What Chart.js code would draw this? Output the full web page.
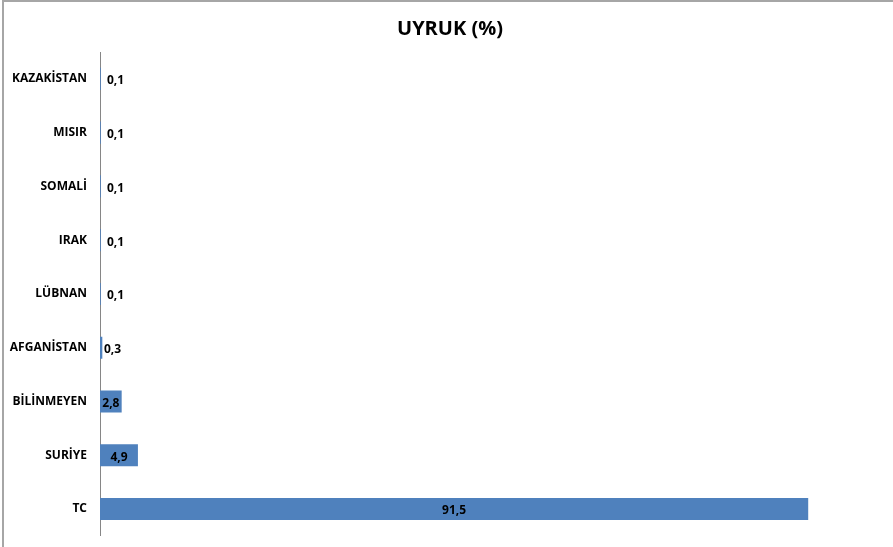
<!DOCTYPE html>
<html>
<head>
<meta charset="utf-8">
<script src="https://cdn.jsdelivr.net/npm/chart.js"></script>
<style>
    body { margin: 0; background: #fff; overflow: hidden; }
    #wrap {
        position: absolute;
        left: 2px; top: 0px;
        width: 900px; height: 560px;
        border: 2px solid #a6a6a6;
        box-sizing: border-box;
    }
    #uyrukChart { position: absolute; left: 0; top: 0; }
    #title {
        position: absolute;
        left: 0; top: 14px; width: 900px;
        text-align: center;
        font: bold 20px 'Open Sans', 'DejaVu Sans', sans-serif;
        color: #000;
    }
</style>
</head>
<body>
<div id="wrap"></div>
<canvas id="uyrukChart" width="893" height="556"></canvas>
<div id="title">UYRUK (%)</div>
<script>
    const countries = ['KAZAKİSTAN', 'MISIR', 'SOMALİ', 'IRAK', 'LÜBNAN', 'AFGANİSTAN', 'BİLİNMEYEN', 'SURİYE', 'TC'];
    const percents = [0.1, 0.1, 0.1, 0.1, 0.1, 0.3, 2.8, 4.9, 91.5];

    const FONT = "'Open Sans', 'DejaVu Sans', sans-serif";

    // value labels: centred in the bar, pushed right of the base when the bar is too short
    const barLabels = {
        id: 'barLabels',
        afterDatasetsDraw(chart) {
            const ctx = chart.ctx;
            const meta = chart.getDatasetMeta(0);
            ctx.save();
            ctx.font = "bold 12px " + FONT;
            ctx.fillStyle = '#000';
            ctx.textBaseline = 'middle';
            meta.data.forEach((bar, i) => {
                const txt = percents[i].toFixed(1).replace('.', ',');
                const w = ctx.measureText(txt).width;
                const x0 = bar.base, x1 = bar.x;
                let cx = (x0 + x1) / 2;
                if (x1 - x0 < w + 2) cx = x0 + (x1 - x0 > 1 ? 4 : 7) + w / 2;
                ctx.textAlign = 'center';
                ctx.fillText(txt, cx, bar.y + 2);
            });
            ctx.restore();
        }
    };

    new Chart(document.getElementById('uyrukChart').getContext('2d'), {
        type: 'bar',
        data: {
            labels: countries,
            datasets: [{
                data: percents,
                backgroundColor: '#4f81bd',
                borderWidth: 0,
                barPercentage: 0.82,
                categoryPercentage: 0.5
            }]
        },
        options: {
            indexAxis: 'y',
            responsive: false,
            animation: false,
            layout: { padding: { left: 0, right: 19, top: 52, bottom: 0 } },
            plugins: {
                legend: { display: false },
                tooltip: { enabled: false },
                title: { display: false }
            },
            scales: {
                x: {
                    display: false,
                    min: 0,
                    max: 100
                },
                y: {
                    grid: { display: false, drawTicks: false },
                    border: { display: true, color: '#868686', width: 1 },
                    ticks: {
                        color: '#000',
                        padding: 13,
                        font: { family: FONT, size: 12, weight: 'bold' }
                    },
                    afterFit(scale) { scale.width = 100; }
                }
            }
        },
        plugins: [barLabels]
    });
</script>
</body>
</html>
